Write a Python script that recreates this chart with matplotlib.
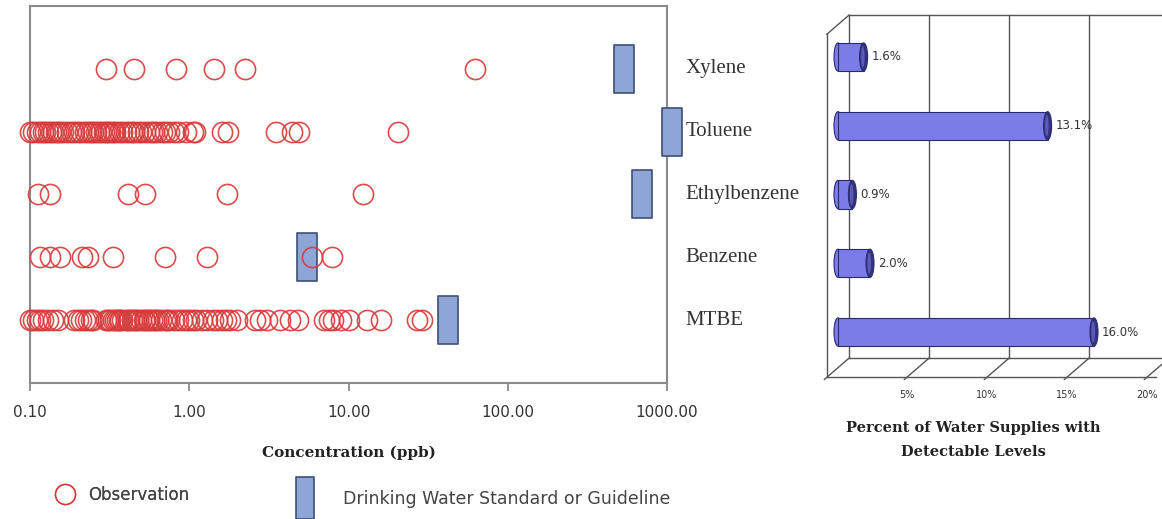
import matplotlib
matplotlib.use("Agg")
import matplotlib.pyplot as plt
from matplotlib.path import Path
from matplotlib.patches import Ellipse
from matplotlib.lines import Line2D
import matplotlib.transforms as mtransforms

# ---------------- data ----------------
compounds = ["MTBE", "Benzene", "Ethylbenzene", "Toluene", "Xylene"]

obs_mtbe = [0.10, 0.105, 0.11, 0.115, 0.12, 0.13, 0.14, 0.15, 0.19, 0.20, 0.21, 0.22,
            0.23, 0.24, 0.25, 0.30, 0.31, 0.32, 0.33, 0.34, 0.35, 0.36, 0.37, 0.38,
            0.40, 0.41, 0.42, 0.44, 0.45, 0.46, 0.48, 0.50, 0.52, 0.53, 0.55, 0.56,
            0.58, 0.60, 0.62, 0.64, 0.66, 0.70, 0.72, 0.75, 0.80, 0.85, 0.90, 0.95,
            1.0, 1.05, 1.1, 1.2, 1.3, 1.4, 1.5, 1.6, 1.7, 1.8, 2.0, 2.6, 2.8, 3.1,
            3.7, 4.3, 4.8, 7.0, 7.5, 8.0, 9.0, 10.0, 13.0, 16.0, 27.0, 29.0]
obs_benzene = [0.116, 0.134, 0.155, 0.212, 0.232, 0.333, 0.707, 1.30, 5.9, 7.9]
obs_ethylbenzene = [0.112, 0.134, 0.41, 0.53, 1.73, 12.4]
obs_toluene = [0.10, 0.105, 0.11, 0.115, 0.12, 0.125, 0.13, 0.135, 0.14, 0.145, 0.15,
               0.155, 0.16, 0.17, 0.18, 0.19, 0.20, 0.21, 0.22, 0.23, 0.24, 0.25,
               0.26, 0.27, 0.28, 0.29, 0.30, 0.31, 0.32, 0.33, 0.34, 0.36, 0.38,
               0.40, 0.42, 0.44, 0.45, 0.48, 0.50, 0.53, 0.56, 0.58, 0.60, 0.63,
               0.67, 0.70, 0.75, 0.80, 0.85, 0.95, 1.05, 1.08, 1.6, 1.75, 3.5, 4.4,
               4.9, 20.5]
obs_xylene = [0.30, 0.45, 0.82, 1.42, 2.25, 62.0]
observations = [obs_mtbe, obs_benzene, obs_ethylbenzene, obs_toluene, obs_xylene]

standards = [42.0, 5.5, 700.0, 1080.0, 540.0]

pct_detect = [16.0, 2.0, 0.9, 13.1, 1.6]
pct_labels = ["16.0%", "2.0%", "0.9%", "13.1%", "1.6%"]
pct_ticks = [5, 10, 15, 20]
conc_ticks = [0.1, 1, 10, 100, 1000]
conc_ticklabels = ["0.10", "1.00", "10.00", "100.00", "1000.00"]

# ---------------- figure ----------------
W, H = 1162, 519
fig = plt.figure(figsize=(W / 100, H / 100), dpi=100)
fig.patch.set_facecolor("white")

def fr(x0, y0, x1, y1):
    return [x0 / W, 1 - y1 / H, (x1 - x0) / W, (y1 - y0) / H]

SANS = "DejaVu Sans"
SERIF = "Liberation Serif"
BSERIF = "DejaVu Serif"

# ---------------- left chart ----------------
ax = fig.add_axes(fr(30, 6, 667, 383))
ax.set_xscale("log")
ax.set_xlim(0.1, 1000)
ax.set_ylim(-1, 5)

obs_color = "#d83a3a"
rect_marker = Path([(-0.43, -1), (0.43, -1), (0.43, 1), (-0.43, 1), (-0.43, -1)],
                   [Path.MOVETO, Path.LINETO, Path.LINETO, Path.LINETO, Path.CLOSEPOLY])

ax.plot(standards, range(len(standards)), linestyle="none",
        marker=rect_marker, markersize=34,
        markerfacecolor="#8ea6d6", markeredgecolor="#3e4f78",
        markeredgewidth=1.2, clip_on=False, zorder=3)

for i, vals in enumerate(observations):
    ax.plot(vals, [i] * len(vals), linestyle="none", marker="o",
            markersize=14.5, markerfacecolor="none",
            markeredgecolor=obs_color, markeredgewidth=1.2,
            alpha=0.9, clip_on=False, zorder=4)

for s in ax.spines.values():
    s.set_color("#8a8a8a")
    s.set_linewidth(1.5)
ax.set_yticks([])
ax.set_xticks(conc_ticks)
ax.set_xticklabels(conc_ticklabels, fontfamily=SANS, fontsize=11, color="#333333")
ax.xaxis.set_minor_locator(matplotlib.ticker.NullLocator())
ax.tick_params(axis="x", which="major", length=6, width=1.3, color="#8a8a8a", pad=10)
ax.set_xlabel("Concentration (ppb)", fontfamily=BSERIF, fontweight="bold",
              fontsize=11, labelpad=18, color="#222222")

trans = mtransforms.blended_transform_factory(ax.transAxes, ax.transData)
for i, name in enumerate(compounds):
    ax.text(1.029, i, name, transform=trans, ha="left", va="center",
            fontfamily=SERIF, fontsize=15, color="#333333")

# legend
leg1 = fig.legend(handles=[Line2D([], [], linestyle="none", marker="o", markersize=14.5,
                                  markerfacecolor="none", markeredgecolor=obs_color)],
                  labels=["Observation"], loc="center left",
                  bbox_to_anchor=(40 / W, 1 - 495 / H), frameon=False,
                  prop={"family": SANS, "size": 12}, handletextpad=0.8,
                  handlelength=1.2)
for t in leg1.get_texts():
    t.set_color("#444444")
fig.add_artist(leg1)
leg2 = fig.legend(handles=[Line2D([], [], linestyle="none", marker=rect_marker,
                                  markersize=30, markerfacecolor="#8ea6d6",
                                  markeredgecolor="#3e4f78", markeredgewidth=1.2)],
                  labels=["Drinking Water Standard or Guideline"], loc="center left",
                  bbox_to_anchor=(279 / W, 1 - 499 / H), frameon=False,
                  prop={"family": SANS, "size": 12.5}, handletextpad=1.6,
                  handlelength=1.2)
for t in leg2.get_texts():
    t.set_color("#444444")

# ---------------- right chart (pseudo 3-D) ----------------
axr = fig.add_axes(fr(800, 0, 1162, 400))
px_per_pct = 16.0
x0_px = 838.0
row_px = 68.75
y0_px = 332.0
axr.set_xlim((800 - x0_px) / px_per_pct, (1162 - x0_px) / px_per_pct)
axr.set_ylim((y0_px - 400) / row_px, (y0_px - 0) / row_px)
axr.axis("off")

frame_c = "#555555"
lw = 1.0
bdx, bdy = 0.69, 0.14      # back-plane offset
fdx, fdy = -0.70, -0.14    # front-plane offset
ybot, ytop = -0.52, 4.47   # bar-plane floor / top

for t in [0] + pct_ticks:
    axr.plot([t + bdx, t + bdx], [ybot + bdy, ytop + bdy], color=frame_c, lw=lw)
axr.plot([bdx, 25], [ytop + bdy, ytop + bdy], color=frame_c, lw=lw)
axr.plot([bdx, 25], [ybot + bdy, ybot + bdy], color=frame_c, lw=lw)
axr.plot([fdx, fdx], [ybot + fdy, ytop + fdy], color=frame_c, lw=lw)
axr.plot([fdx, bdx], [ytop + fdy, ytop + bdy], color=frame_c, lw=lw)
axr.plot([fdx, pct_ticks[-1] + fdx + 0.6], [ybot + fdy, ybot + fdy], color=frame_c, lw=lw)
for t in [0] + pct_ticks:
    axr.plot([t + fdx - 0.15, t + bdx], [ybot + fdy - 0.03, ybot + bdy], color=frame_c, lw=lw)
for t in pct_ticks:
    axr.text(t + fdx, ybot + fdy - 0.25, f"{t}%", ha="center", va="center",
             fontfamily=SANS, fontsize=7, color="#333333")

body_c = "#7c7ce8"
edge_c = "#2a2a70"
cap_c = "#34347c"
bar_h = 0.41
cap_w = 0.5
ypos = list(range(len(pct_detect)))
axr.barh(ypos, pct_detect, height=bar_h, left=0, color=body_c,
         edgecolor=edge_c, linewidth=0.8, zorder=3)
for y, v, lab in zip(ypos, pct_detect, pct_labels):
    axr.add_patch(Ellipse((0, y), cap_w, bar_h, facecolor=body_c, edgecolor=edge_c,
                          linewidth=0.8, zorder=2))
    axr.add_patch(Ellipse((v, y), cap_w, bar_h, facecolor=cap_c, edgecolor=edge_c,
                          linewidth=0.8, zorder=4))
    axr.add_patch(Ellipse((v - 0.05, y), cap_w * 0.45, bar_h * 0.75,
                          facecolor="#5a5ab8", edgecolor="none", zorder=5))
    axr.text(v + 0.5, y, lab, ha="left", va="center", fontfamily=SANS,
             fontsize=8.5, color="#333333", zorder=6)

fig.text(973 / W, 1 - 428 / H, "Percent of Water Supplies with", ha="center",
         va="center", fontfamily=BSERIF, fontweight="bold", fontsize=10.5, color="#222222")
fig.text(973 / W, 1 - 452 / H, "Detectable Levels", ha="center",
         va="center", fontfamily=BSERIF, fontweight="bold", fontsize=10.5, color="#222222")

fig.savefig("out.png", dpi=100, facecolor="white")
